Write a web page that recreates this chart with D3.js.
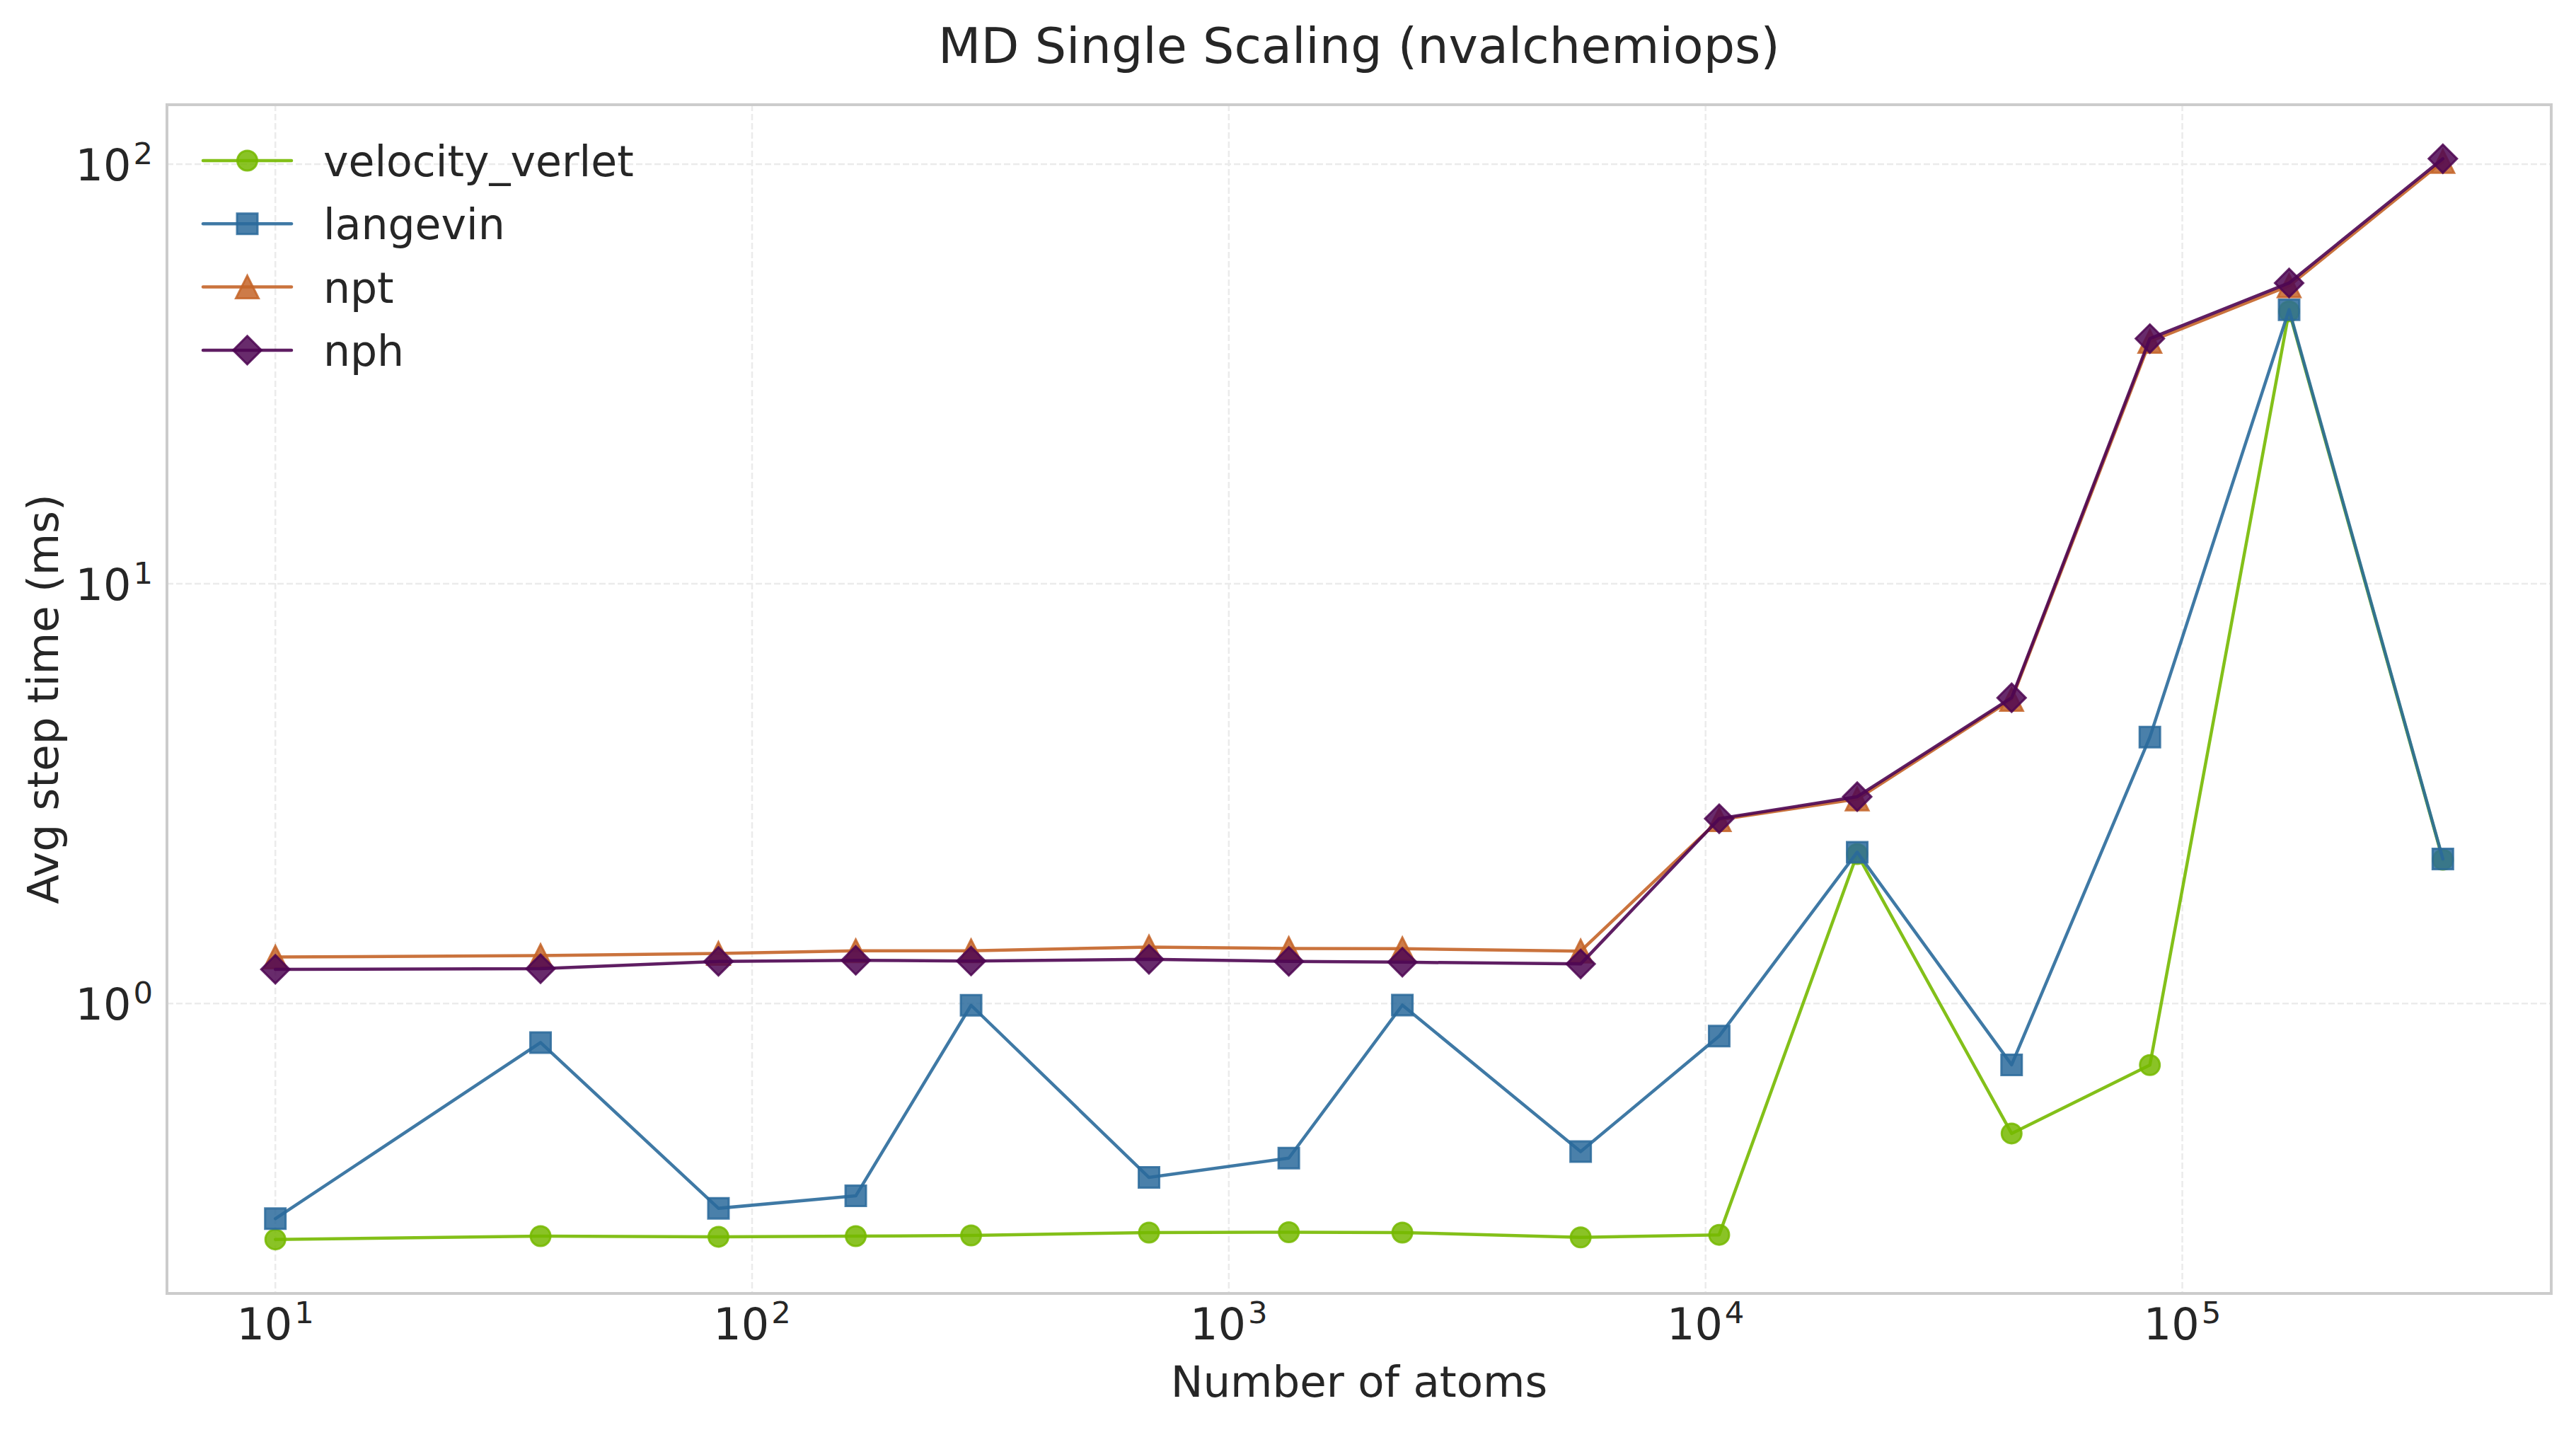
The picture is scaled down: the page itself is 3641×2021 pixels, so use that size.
<!DOCTYPE html>
<html>
<head>
<meta charset="utf-8">
<script src="https://cdn.jsdelivr.net/npm/d3@7"></script>
<style>
  html, body { margin: 0; padding: 0; background: #ffffff; }
  svg { display: block; }
  text { font-family: "DejaVu Sans", sans-serif; fill: #262626; }
</style>
</head>
<body>
<svg id="chart" width="3641" height="2021"></svg>
<script>
// ---------------- data ----------------
const atoms = [10, 36, 85, 165, 288, 680, 1336, 2312, 5470, 10680, 20800, 43850, 85500, 167500, 352000];
const velocityVerlet = [0.274, 0.279, 0.278, 0.279, 0.280, 0.2845, 0.285, 0.2845, 0.277, 0.281, 2.27, 0.49, 0.713, 44.6, 2.2];
const langevin       = [0.307, 0.807, 0.325, 0.348, 0.99, 0.385, 0.428, 0.991, 0.4435, 0.836, 2.293, 0.714, 4.31, 45.0, 2.21];
const npt            = [1.29, 1.30, 1.316, 1.335, 1.335, 1.363, 1.352, 1.35, 1.333, 2.74, 3.07, 5.3, 37.8, 51.3, 101.5];
const nph            = [1.206, 1.21, 1.26, 1.267, 1.262, 1.274, 1.26, 1.254, 1.242, 2.756, 3.11, 5.35, 38.4, 52.1, 103];
const seriesNames = ["velocity_verlet", "langevin", "npt", "nph"];
const seriesColors = ["#76b900", "#2a6a9b", "#c46428", "#4e0652"];
const seriesMarkers = ["circle", "square", "triangle", "diamond"];
const xTickExps = [1, 2, 3, 4, 5];
const yTickExps = [0, 1, 2];
const titleText = "MD Single Scaling (nvalchemiops)";
const xLabelText = "Number of atoms";
const yLabelText = "Avg step time (ms)";

const seriesValues = [velocityVerlet, langevin, npt, nph];

// ---------------- layout ----------------
const W = 3641, H = 2021;
const plot = { left: 236, right: 3606, top: 148, bottom: 1828 };
const svg = d3.select("#chart");
svg.append("rect").attr("width", W).attr("height", H).attr("fill", "#ffffff");

function logPad(vals) {
  const lo = Math.log10(d3.min(vals)), hi = Math.log10(d3.max(vals));
  const m = (hi - lo) * 0.05;
  return [Math.pow(10, lo - m), Math.pow(10, hi + m)];
}
const allY = [].concat(...seriesValues);
const x = d3.scaleLog().domain(logPad(atoms)).range([plot.left, plot.right]);
const y = d3.scaleLog().domain(logPad(allY)).range([plot.bottom, plot.top]);

// ---------------- grid ----------------
const grid = svg.append("g").attr("class", "grid");
xTickExps.forEach(e => {
  const px = x(Math.pow(10, e));
  grid.append("line").attr("x1", px).attr("x2", px).attr("y1", plot.top).attr("y2", plot.bottom)
    .attr("stroke", "#ebebeb").attr("stroke-width", 2.5).attr("stroke-dasharray", "9,4");
});
yTickExps.forEach(e => {
  const py = y(Math.pow(10, e));
  grid.append("line").attr("x1", plot.left).attr("x2", plot.right).attr("y1", py).attr("y2", py)
    .attr("stroke", "#ebebeb").attr("stroke-width", 2.5).attr("stroke-dasharray", "9,4");
});

// ---------------- markers ----------------
function markerPath(kind) {
  const p = d3.path();
  if (kind === "square") {
    const s = 14.5; p.rect(-s, -s, 2 * s, 2 * s);
  } else if (kind === "triangle") {
    const s = 16; p.moveTo(0, -s); p.lineTo(-s, s); p.lineTo(s, s); p.closePath();
  } else if (kind === "diamond") {
    const s = 20; p.moveTo(0, -s); p.lineTo(s, 0); p.lineTo(0, s); p.lineTo(-s, 0); p.closePath();
  } else {
    p.arc(0, 0, 14, 0, 2 * Math.PI); p.closePath();
  }
  return p.toString();
}

function drawMarker(g, kind, color, cx, cy) {
  g.append("path").attr("d", markerPath(kind))
    .attr("transform", `translate(${cx},${cy})`)
    .attr("fill", color).attr("fill-opacity", 0.85)
    .attr("stroke", color).attr("stroke-opacity", 0.85).attr("stroke-width", 3)
    .attr("stroke-linejoin", "miter");
}

// ---------------- series ----------------
const line = d3.line().x(d => x(d[0])).y(d => y(d[1]));
const dataG = svg.append("g").attr("class", "data");
seriesValues.forEach((vals, i) => {
  const pts = atoms.map((a, j) => [a, vals[j]]);
  const g = dataG.append("g");
  g.append("path").attr("d", line(pts)).attr("fill", "none")
    .attr("stroke", seriesColors[i]).attr("stroke-opacity", 0.9)
    .attr("stroke-width", 4.5).attr("stroke-linejoin", "round").attr("stroke-linecap", "round");
  pts.forEach(p => drawMarker(g, seriesMarkers[i], seriesColors[i], x(p[0]), y(p[1])));
});

// ---------------- spines ----------------
svg.append("rect").attr("x", plot.left).attr("y", plot.top)
  .attr("width", plot.right - plot.left).attr("height", plot.bottom - plot.top)
  .attr("fill", "none").attr("stroke", "#cccccc").attr("stroke-width", 4);

// ---------------- tick labels ----------------
const tickFont = 62;
function powLabel(sel, e) {
  sel.append("tspan").text("10");
  sel.append("tspan").text(String(e)).attr("font-size", tickFont * 0.7).attr("dy", -22.6).attr("dx", 3);
}
xTickExps.forEach(e => {
  const t = svg.append("text").attr("x", x(Math.pow(10, e))).attr("y", 1893)
    .attr("text-anchor", "middle").attr("font-size", tickFont);
  powLabel(t, e);
});
yTickExps.forEach(e => {
  const t = svg.append("text").attr("x", 216).attr("y", y(Math.pow(10, e)) + 22.6)
    .attr("text-anchor", "end").attr("font-size", tickFont);
  powLabel(t, e);
});

// ---------------- labels ----------------
svg.append("text").attr("x", (plot.left + plot.right) / 2).attr("y", 89)
  .attr("text-anchor", "middle").attr("font-size", 70).text(titleText);
svg.append("text").attr("x", (plot.left + plot.right) / 2).attr("y", 1974)
  .attr("text-anchor", "middle").attr("font-size", 61).text(xLabelText);
svg.append("text").attr("transform", `translate(82,${(plot.top + plot.bottom) / 2}) rotate(-90)`)
  .attr("text-anchor", "middle").attr("font-size", 61).text(yLabelText);

// ---------------- legend ----------------
const legend = svg.append("g").attr("class", "legend");
seriesNames.forEach((name, i) => {
  const ry = 227 + i * 89.3;
  legend.append("line").attr("x1", 287).attr("x2", 412).attr("y1", ry).attr("y2", ry)
    .attr("stroke", seriesColors[i]).attr("stroke-opacity", 0.9).attr("stroke-width", 4.5)
    .attr("stroke-linecap", "round");
  drawMarker(legend, seriesMarkers[i], seriesColors[i], 349.5, ry);
  legend.append("text").attr("x", 457).attr("y", ry + 22).attr("font-size", 60).text(name);
});
</script>
</body>
</html>
